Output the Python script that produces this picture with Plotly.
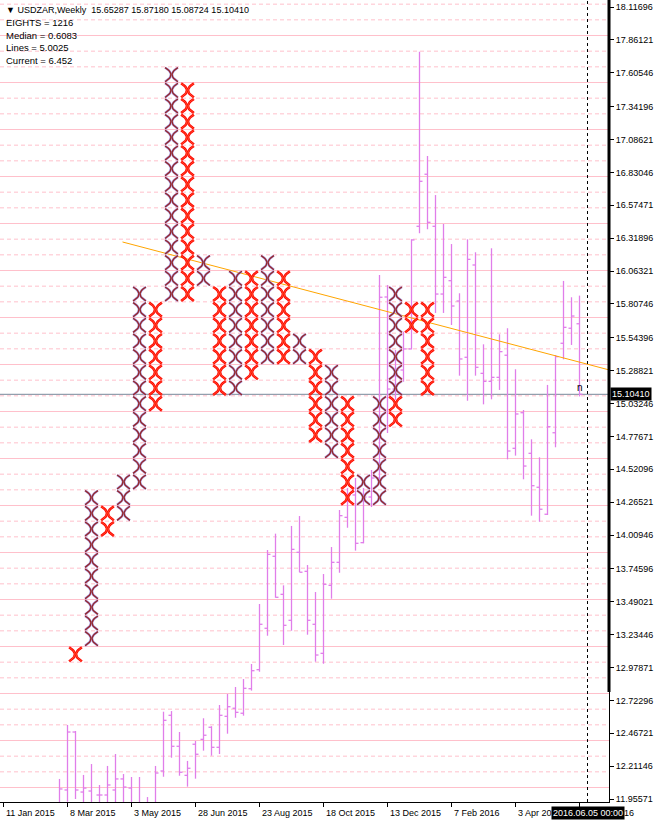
import plotly.graph_objects as go
import numpy as np

# ---------------- weekly OHLC (bar 0 = week of 11 Jan 2015) ----------------
opens = [11.55, 11.62, 11.55, 11.48, 11.58, 11.70, 11.65,
         11.88, 12.026, 12.477, 12.010, 12.018, 11.987, 11.987, 12.026, 12.112, 12.041, 11.92, 11.90, 11.90,
         12.174, 12.607, 12.366, 12.140, 12.382, 12.420, 12.514, 12.358, 12.599, 12.662, 12.623, 12.814,
         12.962, 13.284, 13.844, 13.548, 13.346, 13.875, 13.727, 13.315, 13.089, 13.618, 13.797, 14.147,
         14.321, 13.950, 14.305, 14.453, 15.861, 15.145, 15.293, 15.457, 16.411, 16.816, 16.411, 15.884,
         15.988, 15.830, 15.392, 16.110, 15.267, 15.205, 15.236, 15.408, 14.684, 14.961, 14.645, 14.381,
         14.171, 14.805, 15.501, 15.618, 15.65287]
highs = [11.72, 11.75, 11.68, 11.62, 11.80, 11.88, 11.90,
         12.112, 12.532, 12.485, 12.143, 12.228, 12.065, 12.213, 12.306, 12.150, 12.127, 12.127, 11.971, 12.213,
         12.635, 12.640, 12.477, 12.252, 12.407, 12.584, 12.522, 12.687, 12.773, 12.827, 12.889, 13.006,
         13.473, 13.893, 14.020, 13.618, 14.080, 14.157, 13.776, 13.566, 13.706, 13.916, 14.204, 14.375,
         14.453, 14.375, 14.515, 16.032, 15.954, 15.449, 15.591, 16.310, 17.769, 16.958, 16.654, 16.429,
         16.273, 15.890, 16.310, 16.209, 15.493, 16.240, 15.571, 15.618, 15.299, 14.982, 14.754, 14.614,
         15.177, 15.410, 15.986, 15.859, 15.87180]
lows = [11.45, 11.50, 11.40, 11.35, 11.52, 11.60, 11.58,
        11.80, 11.935, 11.956, 11.87, 11.80, 11.85, 11.88, 11.90, 11.90, 11.85, 11.85, 11.80, 11.85,
        12.129, 12.277, 12.137, 12.052, 12.114, 12.332, 12.293, 12.306, 12.464, 12.588, 12.604, 12.799,
        12.946, 13.226, 13.522, 13.154, 13.265, 13.720, 13.234, 13.024, 13.008, 13.514, 13.716, 14.066,
        13.888, 13.945, 14.227, 14.437, 14.803, 15.060, 15.202, 15.454, 16.357, 16.388, 15.737, 15.737,
        15.643, 15.249, 15.054, 15.249, 15.026, 15.065, 15.138, 14.598, 14.627, 14.443, 14.160, 14.113,
        14.165, 14.692, 15.376, 15.488, 15.08724]
closes = [11.62, 11.55, 11.48, 11.58, 11.70, 11.65, 11.85,
          12.034, 12.477, 12.026, 12.041, 11.90, 11.987, 12.065, 12.112, 12.049, 11.92, 11.90, 11.88, 12.158,
          12.568, 12.366, 12.164, 12.195, 12.304, 12.452, 12.358, 12.607, 12.674, 12.630, 12.817, 12.954,
          13.315, 13.859, 13.525, 13.307, 13.898, 13.720, 13.346, 13.076, 13.626, 13.797, 14.160, 14.321,
          13.945, 14.305, 14.453, 15.859, 15.145, 15.293, 15.457, 16.305, 16.761, 16.442, 15.884, 16.014,
          15.791, 15.379, 16.154, 15.314, 15.205, 15.236, 15.436, 14.663, 14.951, 14.546, 14.393, 14.210,
          14.852, 15.397, 15.625, 15.713, 15.10410]
bar_index = list(range(len(opens)))

# ---------------- point & figure columns ----------------
pf_base = 14.2391      # price of a reference box boundary
pf_box = 0.12187       # box size
pf_col_bar = [9, 11, 13, 15, 17, 19, 21, 23, 25, 27, 29, 31, 33, 35, 37, 39, 41, 43, 45, 47, 49, 51, 53]
pf_col_start = [-10, -9, -2, -1, 1, 6, 13, 13, 14, 7, 7, 8, 9, 9, 9, 4, 3, 0, 0, 0, 5, 11, 7]
pf_col_boxes = ["r", "bbbbbbbbbb", "rr", "bbb", "bbbbbbbbbbbbb", "rrrrrrr", "bbbbbbbbbbbbbbb",
                "rrrrrrrrrrrrrr", "bb", "rrrrrrr", "bbbbbbbb", "rrrrrrr", "bbbbbbb", "rrrrrr", "bb",
                "rrrrrr", "bbbbbb", "rrrrrrr", "bb", "bbbbbbb", "rrbbbbbbb", "rr", "rrrrrr"]

# ---------------- axis / annotations ----------------
y_tick_vals = [18.11696, 17.86121, 17.60546, 17.34196, 17.08621, 16.83046, 16.57471, 16.31896,
               16.06321, 15.80746, 15.54396, 15.28821, 15.03246, 14.77671, 14.52096, 14.26521,
               14.00946, 13.74596, 13.49021, 13.23446, 12.97871, 12.72296, 12.46721, 12.21146, 11.95571]
x_tick_bars = [0, 8, 16, 24, 32, 40, 48, 56, 64, 72]
x_tick_labels = ["11 Jan 2015", "8 Mar 2015", "3 May 2015", "28 Jun 2015", "23 Aug 2015",
                 "18 Oct 2015", "13 Dec 2015", "7 Feb 2016", "3 Apr 2016", "29 May 2016"]
header_lines = ["\u25BC USDZAR,Weekly  15.65287 15.87180 15.08724 15.10410",
                "EIGHTS = 1216", "Median = 0.6083", "Lines = 5.0025", "Current = 6.452"]
current_price = 15.10410
cursor_bar = 73
cursor_label = "2016.06.05 00:00"
trend_x = [14.875, 75.75]
trend_y = [16.289, 15.293]

Y_TOP, Y_BOT = 18.1714, 11.9326
X_LEFT = -0.4375
X_RIGHT = X_LEFT + 609 / 8.0
PX_PER_BAR = 8.0

FONT = "Liberation Sans"
FS = 9
fig = go.Figure()

# grid lines (box boundaries)
shapes = []
n_lo = int(np.floor((Y_BOT - pf_base) / pf_box)) - 1
n_hi = int(np.ceil((Y_TOP - pf_base) / pf_box)) + 1
for n in range(n_lo, n_hi + 1):
    yv = pf_base + n * pf_box
    solid = (n % 3 == 0)
    shapes.append(dict(type="line", xref="paper", x0=0, x1=1, yref="y", y0=yv, y1=yv,
                       line=dict(color="#FFC0CB", width=1, dash="solid" if solid else "4px,3px"),
                       layer="below"))

# current price line
shapes.append(dict(type="line", xref="paper", x0=0, x1=1, yref="y", y0=current_price, y1=current_price,
                   line=dict(color="#778899", width=1), layer="below"))
# cursor dashed line
shapes.append(dict(type="line", xref="x", x0=cursor_bar, x1=cursor_bar, yref="paper", y0=0, y1=1,
                   line=dict(color="black", width=1, dash="3px,3px")))
# thick right edge
shapes.append(dict(type="line", xref="paper", x0=1, x1=1, yref="y", y0=12.788, y1=Y_TOP,
                   line=dict(color="black", width=3)))

# OHLC bars as line segments: high-low stem, open tick left, close tick right
TICK = 0.375
bx, by = [], []
for i, o, h, l, c in zip(bar_index, opens, highs, lows, closes):
    bx += [i, i, None, i - TICK, i, None, i, i + TICK, None]
    by += [l, h, None, o, o, None, c, c, None]
fig.add_trace(go.Scatter(x=bx, y=by, mode="lines", line=dict(color="#E07EEA", width=1.3),
                         hoverinfo="skip", showlegend=False))

# trend line
fig.add_trace(go.Scatter(x=trend_x, y=trend_y, mode="lines", line=dict(color="#FFA500", width=1),
                         hoverinfo="skip", showlegend=False))

# P&F glyphs: each box drawn as ")(" pair of arcs
t = np.linspace(-1, 1, 13)
hh = pf_box * 0.45
def glyph_paths(which):
    xs, ys = [], []
    for b, s, boxes in zip(pf_col_bar, pf_col_start, pf_col_boxes):
        for k, ch in enumerate(boxes):
            if ch != which:
                continue
            yc = pf_base + (s + k + 0.5) * pf_box
            for sgn in (-1, 1):
                xs += list(b + sgn * (0.6 + 5.8 * t ** 2) / PX_PER_BAR) + [None]
                ys += list(yc + t * hh) + [None]
    return xs, ys

for which, outline, ow, core, cw in (("b", "#A898E0", 2.4, "#962828", 1.3),
                                     ("r", "#FF0000", 2.5, "#FF9A50", 0.5)):
    xs, ys = glyph_paths(which)
    fig.add_trace(go.Scatter(x=xs, y=ys, mode="lines", line=dict(color=outline, width=ow),
                             hoverinfo="skip", showlegend=False))
    fig.add_trace(go.Scatter(x=xs, y=ys, mode="lines", line=dict(color=core, width=cw),
                             hoverinfo="skip", showlegend=False))

annotations = []
for k, txt in enumerate(header_lines):
    annotations.append(dict(xref="paper", yref="paper", x=0, y=1, xanchor="left", yanchor="middle",
                            xshift=4, yshift=-(10 + 12.5 * k), text=txt, showarrow=False,
                            font=dict(family=FONT, size=FS if k == 0 else 9.5, color="black")))
for b, lab in zip(x_tick_bars, x_tick_labels):
    annotations.append(dict(xref="x", yref="paper", x=b, y=0, xanchor="left", yanchor="top",
                            xshift=0, yshift=-4, text=lab, showarrow=False,
                            font=dict(family=FONT, size=FS, color="black")))
annotations.append(dict(xref="x", yref="paper", x=cursor_bar, y=0, xanchor="center", yanchor="top",
                        yshift=-4, text=cursor_label, showarrow=False, bgcolor="black", borderpad=1,
                        font=dict(family=FONT, size=FS, color="white")))
annotations.append(dict(xref="paper", yref="y", x=1, y=current_price, xanchor="left", yanchor="middle",
                        xshift=1, text="15.10410", showarrow=False, bgcolor="black", borderpad=1,
                        font=dict(family=FONT, size=FS, color="white")))
annotations.append(dict(xref="x", yref="y", x=72, y=current_price, xanchor="center", yanchor="bottom",
                        yshift=-1, text="n", showarrow=False,
                        font=dict(family=FONT, size=10, color="black")))

fig.update_layout(
    width=657, height=823, margin=dict(l=0, r=48, t=0, b=21, autoexpand=False),
    paper_bgcolor="white", plot_bgcolor="white", showlegend=False,
    shapes=shapes, annotations=annotations,
    xaxis=dict(range=[X_LEFT, X_RIGHT], showgrid=False, zeroline=False, showline=True,
               linecolor="black", linewidth=1, ticks="outside", ticklen=4, tickcolor="black",
               tickvals=x_tick_bars, showticklabels=False, fixedrange=True),
    yaxis=dict(range=[Y_BOT, Y_TOP], side="right", showgrid=False, zeroline=False, showline=True,
               linecolor="black", linewidth=1, ticks="outside", ticklen=4, tickcolor="black",
               tickvals=y_tick_vals, ticktext=["%.5f" % v for v in y_tick_vals],
               tickfont=dict(family=FONT, size=FS, color="black"), fixedrange=True),
)
fig.write_html("out.html", config={"displayModeBar": False, "staticPlot": True},
               post_script="document.body.style.margin='0px';document.body.style.overflow='hidden';")
